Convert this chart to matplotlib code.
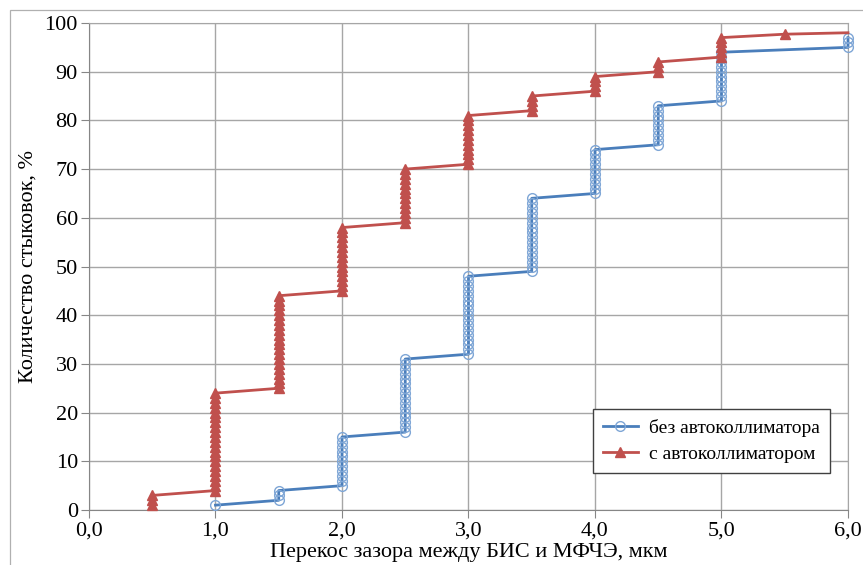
import matplotlib
matplotlib.use("Agg")
import matplotlib.pyplot as plt
from matplotlib.patches import Rectangle
from matplotlib.ticker import FuncFormatter, MultipleLocator

# Steps: every marker is one docking, cumulative percent
BLUE_X = ([1.0] * 1 + [1.5] * 3 + [2.0] * 11 + [2.5] * 16 + [3.0] * 17
          + [3.5] * 16 + [4.0] * 10 + [4.5] * 9 + [5.0] * 11 + [6.0] * 3)
BLUE_Y = [1,
          2, 3, 4,
          5, 6, 7, 8, 9, 10, 11, 12, 13, 14, 15,
          16, 17, 18, 19, 20, 21, 22, 23, 24, 25, 26, 27, 28, 29, 30, 31,
          32, 33, 34, 35, 36, 37, 38, 39, 40, 41, 42, 43, 44, 45, 46, 47, 48,
          49, 50, 51, 52, 53, 54, 55, 56, 57, 58, 59, 60, 61, 62, 63, 64,
          65, 66, 67, 68, 69, 70, 71, 72, 73, 74,
          75, 76, 77, 78, 79, 80, 81, 82, 83,
          84, 85, 86, 87, 88, 89, 90, 91, 92, 93, 94,
          95, 96, 97]

RED_X = ([0.5] * 3 + [1.0] * 21 + [1.5] * 20 + [2.0] * 14 + [2.5] * 12
         + [3.0] * 11 + [3.5] * 4 + [4.0] * 4 + [4.5] * 3 + [5.0] * 5
         + [5.5] * 1 + [6.0] * 1)
RED_Y = [1, 2, 3,
         4, 5, 6, 7, 8, 9, 10, 11, 12, 13, 14, 15, 16, 17, 18, 19, 20, 21, 22, 23, 24,
         25, 26, 27, 28, 29, 30, 31, 32, 33, 34, 35, 36, 37, 38, 39, 40, 41, 42, 43, 44,
         45, 46, 47, 48, 49, 50, 51, 52, 53, 54, 55, 56, 57, 58,
         59, 60, 61, 62, 63, 64, 65, 66, 67, 68, 69, 70,
         71, 72, 73, 74, 75, 76, 77, 78, 79, 80, 81,
         82, 83, 84, 85,
         86, 87, 88, 89,
         90, 91, 92,
         93, 94, 95, 96, 97,
         97.7,
         98.0]

LABEL_BLUE = "без автоколлиматора"
LABEL_RED = "с автоколлиматором"
XLABEL = "Перекос зазора между БИС и МФЧЭ, мкм"
YLABEL = "Количество стыковок, %"

plt.rcParams["font.family"] = ["Liberation Serif", "DejaVu Serif"]

fig = plt.figure(figsize=(8.63, 5.65), dpi=100)
ax = fig.add_axes([0.1031, 0.0973, 0.8795, 0.862])

# light frame round the chart area
fig.patches.append(Rectangle((10 / 863, -0.05), 1.2, 1 - 10 / 565 + 0.05,
                             transform=fig.transFigure, fill=False,
                             edgecolor="#b0b0b0", linewidth=0.9))

ax.plot(BLUE_X, BLUE_Y, color="#4A7EBB", lw=2.0, marker="o", ms=7,
        mfc="none", mec="#7EA6D6", mew=1.0, label=LABEL_BLUE, zorder=3,
        clip_on=False)
ax.plot(RED_X, RED_Y, color="#C0504D", lw=2.0, marker="^", ms=7.5,
        mfc="#C0504D", mec="#C0504D", markevery=slice(0, len(RED_X) - 1),
        label=LABEL_RED, zorder=4, clip_on=False)

ax.set_xlim(0, 6)
ax.set_ylim(0, 100)
ax.xaxis.set_major_locator(MultipleLocator(1))
ax.yaxis.set_major_locator(MultipleLocator(10))
ax.xaxis.set_major_formatter(FuncFormatter(lambda v, p: f"{v:.1f}".replace(".", ",")))
ax.yaxis.set_major_formatter(FuncFormatter(lambda v, p: f"{v:.0f}"))

ax.grid(True, color="#a6a6a6", lw=1.0)
ax.set_axisbelow(True)
for s in ax.spines.values():
    s.set_color("#a6a6a6")
ax.spines["left"].set_color("#868686")
ax.spines["bottom"].set_color("#868686")
ax.tick_params(axis="both", labelsize=16, length=6, color="#868686", pad=2)

ax.set_xlabel(XLABEL, fontsize=16, labelpad=2)
ax.set_ylabel(YLABEL, fontsize=16, labelpad=5)

leg = ax.legend(loc="lower right", bbox_to_anchor=(830 / 863, 1 - 473 / 565),
                bbox_transform=fig.transFigure, fontsize=14, frameon=True,
                fancybox=False, edgecolor="#404040", framealpha=1,
                handlelength=1.8, borderpad=0.5, labelspacing=0.45,
                borderaxespad=0, handletextpad=0.6)
leg.get_frame().set_linewidth(1.0)

fig.savefig("out.png", dpi=100)
